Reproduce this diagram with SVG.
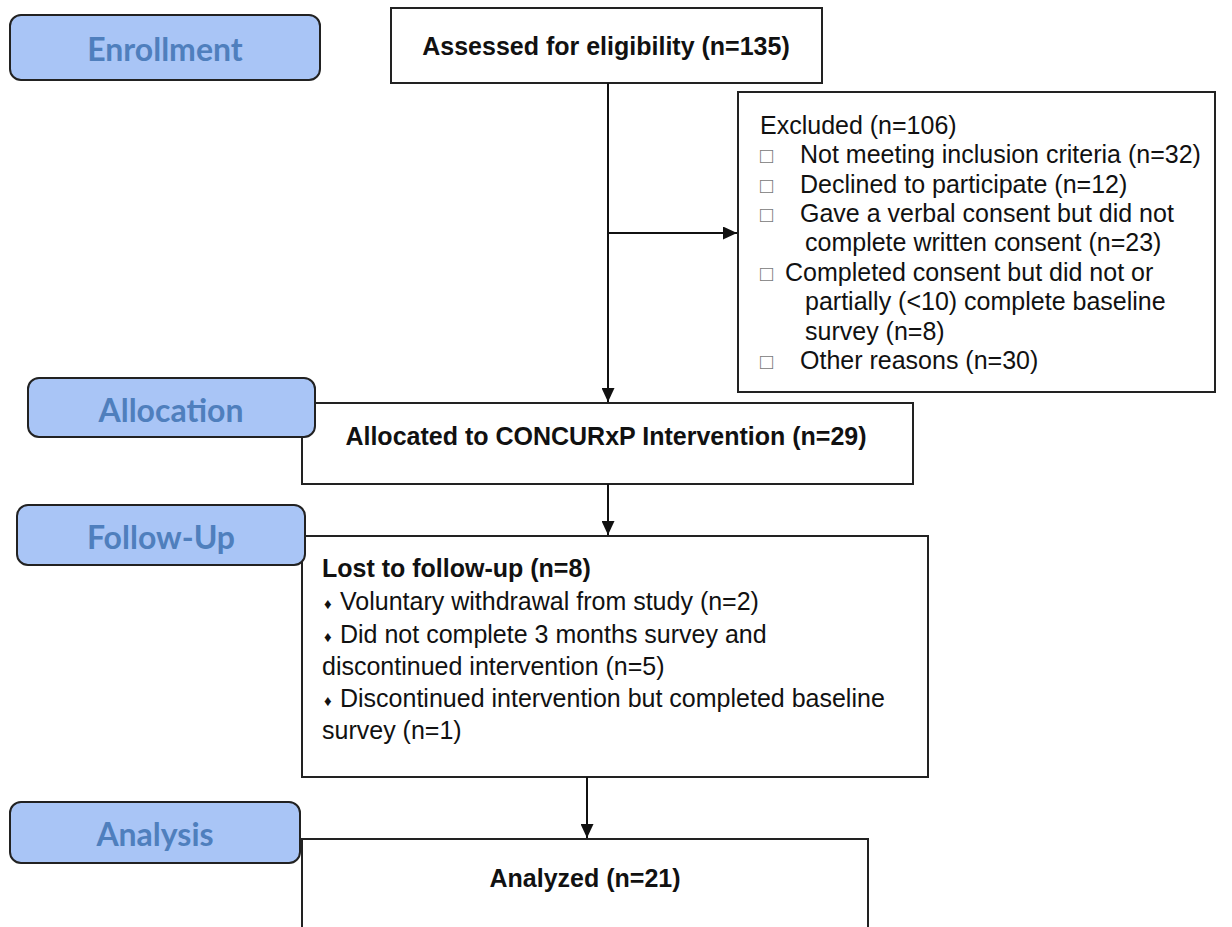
<svg xmlns="http://www.w3.org/2000/svg" width="1232" height="927" viewBox="0 0 1232 927">
<style>
.lbl rect{fill:#a9c5f6;stroke:#222;stroke-width:2}
.lbl text{font-family:Lato,"Open Sans",sans-serif;font-weight:700;font-size:32px;fill:#4f7fbd;text-anchor:middle}
.box{fill:#fff;stroke:#222;stroke-width:2}
.t{font-family:"Liberation Sans",Arial,sans-serif;font-size:25px;fill:#111}
.b{font-weight:700}
.c{text-anchor:middle}
.sq{font-family:"Liberation Sans","DejaVu Sans",sans-serif;font-size:22px;fill:#777}
.dm{font-family:"Liberation Sans","DejaVu Sans",sans-serif;font-size:15px;fill:#111}
.ln{stroke:#111;stroke-width:2;fill:none}
</style>
<defs>
<marker id="ah" markerWidth="14" markerHeight="13" refX="10" refY="5" orient="auto" markerUnits="userSpaceOnUse" viewBox="0 0 10 10" preserveAspectRatio="none">
<path d="M0,0 L10,5 L0,10 z" fill="#111"/>
</marker>
</defs>
<rect width="1232" height="927" fill="#fff"/>

<g id="assessed">
<rect class="box" x="391" y="8" width="431" height="75"/>
<text class="t b c" x="606" y="55">Assessed for eligibility (n=135)</text>
</g>

<g id="excluded">
<rect class="box" x="738" y="92" width="477" height="300"/>
<text class="t" x="760" y="134">Excluded (n=106)</text>
<text class="sq" x="760" y="163">□</text>
<text class="t" x="800" y="163">Not meeting inclusion criteria (n=32)</text>
<text class="sq" x="760" y="193">□</text>
<text class="t" x="800" y="193">Declined to participate (n=12)</text>
<text class="sq" x="760" y="222">□</text>
<text class="t" x="800" y="222">Gave a verbal consent but did not</text>
<text class="t" x="805" y="251">complete written consent (n=23)</text>
<text class="sq" x="760" y="281">□</text>
<text class="t" x="785" y="281">Completed consent but did not or</text>
<text class="t" x="805" y="310">partially (&lt;10) complete baseline</text>
<text class="t" x="805" y="340">survey (n=8)</text>
<text class="sq" x="760" y="369">□</text>
<text class="t" x="800" y="369">Other reasons (n=30)</text>
</g>

<g id="allocated">
<rect class="box" x="302" y="403" width="611" height="81"/>
<text class="t b c" x="606" y="445">Allocated to CONCURxP Intervention (n=29)</text>
</g>

<g id="lost">
<rect class="box" x="302" y="536" width="626" height="241"/>
<text class="t b" x="322" y="577">Lost to follow-up (n=8)</text>
<text class="dm" x="324" y="609">♦</text>
<text class="t" x="340" y="610">Voluntary withdrawal from study (n=2)</text>
<text class="dm" x="324" y="642">♦</text>
<text class="t" x="340" y="643">Did not complete 3 months survey and</text>
<text class="t" x="322" y="675">discontinued intervention (n=5)</text>
<text class="dm" x="324" y="706">♦</text>
<text class="t" x="340" y="707">Discontinued intervention but completed baseline</text>
<text class="t" x="322" y="739">survey (n=1)</text>
</g>

<g id="analyzed">
<rect class="box" x="302" y="839" width="566" height="110"/>
<text class="t b c" x="585" y="887">Analyzed (n=21)</text>
</g>

<g id="connectors">
<line class="ln" x1="608" y1="83" x2="608" y2="402" marker-end="url(#ah)"/>
<line class="ln" x1="608" y1="233" x2="737" y2="233" marker-end="url(#ah)"/>
<line class="ln" x1="608" y1="484" x2="608" y2="535" marker-end="url(#ah)"/>
<line class="ln" x1="587" y1="777" x2="587" y2="838" marker-end="url(#ah)"/>
</g>

<g id="label-enrollment" class="lbl">
<rect x="10" y="15" width="310" height="65" rx="11"/>
<text x="165" y="61">Enrollment</text>
</g>
<g id="label-allocation" class="lbl">
<rect x="28" y="378" width="287" height="59" rx="11"/>
<text x="171" y="422">Allocation</text>
</g>
<g id="label-followup" class="lbl">
<rect x="17" y="505" width="288" height="60" rx="11"/>
<text x="161" y="549">Follow-Up</text>
</g>
<g id="label-analysis" class="lbl">
<rect x="10" y="802" width="290" height="61" rx="11"/>
<text x="155" y="846">Analysis</text>
</g>
</svg>
